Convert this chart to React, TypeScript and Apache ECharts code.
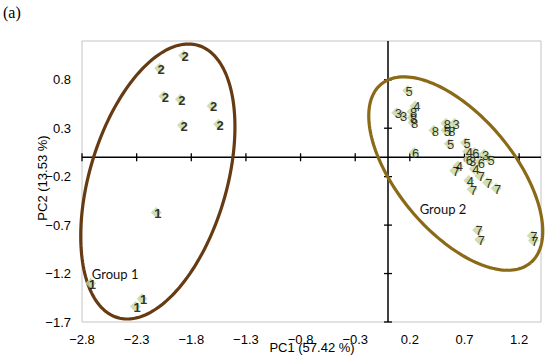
import React, { useEffect, useRef } from "react";
import * as echarts from "echarts";

// ---- data (PC1, PC2 scores with sample group numbers) ----
const sampleLabels = [
  "2", "2", "2", "2", "2", "2", "2",
  "1", "1", "1", "1",
  "5", "3", "3", "4", "8", "8", "8", "8", "8", "3", "5", "8", "5", "6",
  "5", "4", "6", "6", "3", "3", "5", "6", "4", "7", "4", "7", "7", "7",
  "4", "7", "7", "7", "7", "7",
];
const pc1 = [
  -1.87, -2.09, -2.05, -1.9, -1.61, -1.88, -1.55,
  -2.12, -2.72, -2.25, -2.31,
  0.18, 0.08, 0.13, 0.25, 0.22, 0.22, 0.23, 0.42, 0.53, 0.61, 0.53, 0.57, 0.56, 0.24,
  0.71, 0.73, 0.79, 0.73, 0.76, 0.88, 0.93, 0.84, 0.64, 0.61, 0.79, 0.84, 0.91, 0.99,
  0.74, 0.77, 0.82, 0.84, 1.32, 1.33,
];
const pc2 = [
  1.05, 0.92, 0.63, 0.6, 0.53, 0.33, 0.34,
  -0.57, -1.3, -1.46, -1.54,
  0.69, 0.46, 0.43, 0.53, 0.47, 0.41, 0.36, 0.28, 0.35, 0.35, 0.28, 0.28, 0.14, 0.05,
  0.15, 0.06, 0.05, -0.02, -0.03, 0.03, -0.02, -0.05, -0.09, -0.14, -0.12, -0.19, -0.26, -0.32,
  -0.24, -0.33, -0.75, -0.85, -0.81, -0.86,
];

// axis ticks
const xTicks = [-2.8, -2.3, -1.8, -1.3, -0.8, -0.3, 0.2, 0.7, 1.2];
const yTicks = [-1.7, -1.2, -0.7, -0.2, 0.3, 0.8];
const xTickLabels = ["\u22122.8", "\u22122.3", "\u22121.8", "\u22121.3", "\u22120.8", "\u22120.3", "0.2", "0.7", "1.2"];
const yTickLabels = ["\u22121.7", "\u22121.2", "\u22120.7", "\u22120.2", "0.3", "0.8"];
const xMin = -2.8;
const xMax = 1.4;
const yMin = -1.7;
const yMax = 1.2;

// group confidence ellipses (centre + conjugate half-axis vectors, data units)
const groupNames = ["Group 1", "Group 2"];
const ellipseCx = [-2.106, 0.62];
const ellipseCy = [-0.25, -0.168];
const ellipseUx = [0.368, 0.683];
const ellipseUy = [1.405, -0.922];
const ellipseVx = [-0.602, 0.409];
const ellipseVy = [0.199, 0.382];
const ellipseColors = ["#663a12", "#8b6a17"];
const groupLabelX = [-2.71, 0.29];
const groupLabelY = [-1.207, -0.531];

export default function App() {
  const ref = useRef<HTMLDivElement>(null);

  useEffect(() => {
    if (!ref.current) return;
    const chart = echarts.init(ref.current, null, { renderer: "svg" });

    const gridLeft = 82;
    const gridTop = 41;
    const gridRight = 9;
    const gridBottom = 36;
    const sans = "'Liberation Sans', Arial, sans-serif";

    const option: any = {
      animation: false,
      backgroundColor: "#ffffff",
      grid: {
        left: gridLeft,
        top: gridTop,
        right: gridRight,
        bottom: gridBottom,
        show: true,
        borderColor: "#c4c4c4",
        borderWidth: 1,
        backgroundColor: "transparent",
      },
      xAxis: { type: "value", min: xMin, max: xMax, show: false },
      yAxis: { type: "value", min: yMin, max: yMax, show: false },
      graphic: [
        {
          type: "text",
          left: 3,
          top: 4,
          style: { text: "(a)", font: "16px 'Liberation Serif', 'DejaVu Serif', serif", fill: "#000" },
        },
        {
          type: "text",
          x: 312,
          y: 347,
          style: {
            text: "PC1 (57.42 %)",
            font: "13px " + sans,
            fill: "#000",
            align: "center",
            verticalAlign: "middle",
          },
        },
        {
          type: "text",
          x: 42,
          y: 178,
          rotation: Math.PI / 2,
          style: {
            text: "PC2 (13.53 %)",
            font: "13px " + sans,
            fill: "#000",
            align: "center",
            verticalAlign: "middle",
          },
        },
      ],
      series: [
        {
          type: "custom",
          name: "axes",
          silent: true,
          z: 1,
          data: [[0, 0]],
          renderItem: (params: any, api: any) => {
            const children: any[] = [];
            const o = api.coord([0, 0]);
            const l = api.coord([xMin, 0]);
            const r = api.coord([xMax, 0]);
            const t = api.coord([0, yMax]);
            const b = api.coord([0, yMin]);
            children.push({
              type: "line",
              shape: { x1: l[0], y1: o[1], x2: r[0], y2: o[1] },
              style: { stroke: "#000", lineWidth: 1.5 },
            });
            children.push({
              type: "line",
              shape: { x1: o[0], y1: t[1], x2: o[0], y2: b[1] },
              style: { stroke: "#000", lineWidth: 1.5 },
            });
            xTicks.forEach((v, i) => {
              const p = api.coord([v, 0]);
              children.push({
                type: "line",
                shape: { x1: p[0], y1: p[1] - 4, x2: p[0], y2: p[1] + 4 },
                style: { stroke: "#000", lineWidth: 1.3 },
              });
              const pb = api.coord([v, yMin]);
              children.push({
                type: "text",
                x: p[0],
                y: pb[1] + 17,
                style: {
                  text: xTickLabels[i],
                  font: "13px " + sans,
                  fill: "#000",
                  align: "center",
                  verticalAlign: "middle",
                },
              });
            });
            yTicks.forEach((v, i) => {
              const p = api.coord([0, v]);
              children.push({
                type: "line",
                shape: { x1: p[0] - 4, y1: p[1], x2: p[0] + 4, y2: p[1] },
                style: { stroke: "#000", lineWidth: 1.3 },
              });
              const pl = api.coord([xMin, v]);
              children.push({
                type: "text",
                x: pl[0] - 11,
                y: p[1],
                style: {
                  text: yTickLabels[i],
                  font: "13px " + sans,
                  fill: "#000",
                  align: "right",
                  verticalAlign: "middle",
                },
              });
            });
            return { type: "group", children };
          },
        },
        {
          type: "custom",
          name: "ellipses",
          silent: true,
          z: 2,
          data: groupNames.map((_, i) => [ellipseCx[i], ellipseCy[i]]),
          renderItem: (params: any, api: any) => {
            const i = params.dataIndex;
            const pts: number[][] = [];
            const n = 180;
            for (let k = 0; k <= n; k++) {
              const a = (k / n) * Math.PI * 2;
              pts.push(
                api.coord([
                  ellipseCx[i] + ellipseUx[i] * Math.cos(a) + ellipseVx[i] * Math.sin(a),
                  ellipseCy[i] + ellipseUy[i] * Math.cos(a) + ellipseVy[i] * Math.sin(a),
                ])
              );
            }
            const lp = api.coord([groupLabelX[i], groupLabelY[i]]);
            return {
              type: "group",
              children: [
                {
                  type: "polyline",
                  shape: { points: pts },
                  style: { stroke: ellipseColors[i], lineWidth: 3.2, fill: null },
                },
                {
                  type: "text",
                  x: lp[0],
                  y: lp[1],
                  style: {
                    text: groupNames[i],
                    font: "13px Lato, 'Open Sans', sans-serif",
                    fill: "#111",
                    align: "left",
                    verticalAlign: "middle",
                  },
                },
              ],
            };
          },
        },
        {
          type: "scatter",
          name: "samples",
          z: 3,
          symbol: "diamond",
          symbolSize: 11,
          itemStyle: { color: "#c5d6a0" },
          data: pc1.map((x, i) => ({
            value: [x, pc2[i]],
            name: sampleLabels[i],
            label: { fontWeight: x < 0 ? "bold" : "normal" },
          })),
          label: {
            show: true,
            position: "inside",
            offset: [1.5, 1],
            formatter: (p: any) => p.name,
            color: "#000",
            fontSize: 13,
            textBorderWidth: 0,
            fontFamily: "'Liberation Sans', Arial, sans-serif",
          },
        },
      ],
    };

    chart.setOption(option);
    return () => chart.dispose();
  }, []);

  return (
    <div
      ref={ref}
      style={{ position: "fixed", left: 0, top: 0, width: 550, height: 358, background: "#fff" }}
    />
  );
}
